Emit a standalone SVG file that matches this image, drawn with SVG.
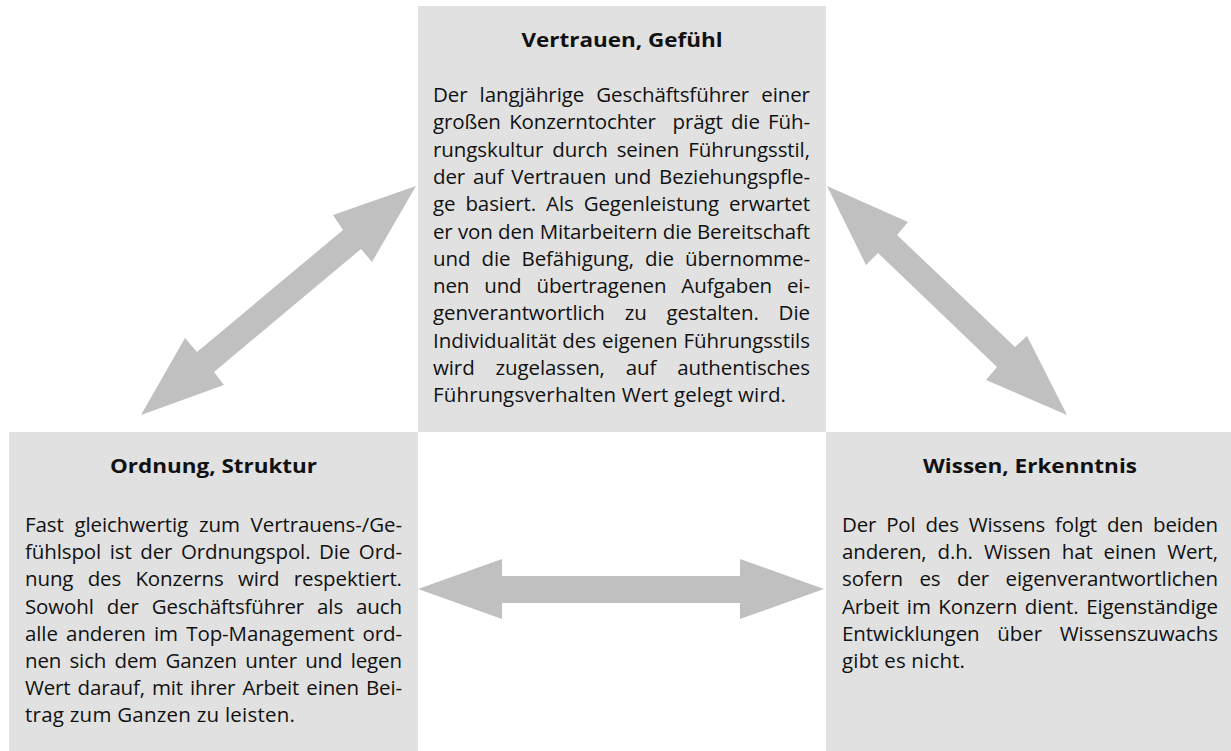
<svg xmlns="http://www.w3.org/2000/svg" width="1231" height="751" viewBox="0 0 1231 751">
<style>
.box{fill:#e1e1e1}
.arrow{fill:#c0c0c0}
.t{font-family:"Open Sans","Noto Sans",sans-serif;fill:#111}
.h{font-size:20px;font-weight:bold;text-anchor:middle}
.b{font-size:20.5px}
</style>
<rect width="1231" height="751" fill="#ffffff"/>
<g id="connectors">
<polygon class="arrow" points="416,186 372,262 361,249 214,372 224,385 141,415 185,338 197,352 343,230 333,215"/>
<polygon class="arrow" points="827,186 908,222 897,235 1015,347 1027,336 1067,415 986,380 997,367 878,253 866,265"/>
<polygon class="arrow" points="418,589 502,559 502,576 740,576 740,559 824,589 740,619 740,603 502,603 502,619"/>
</g>
<g id="node-vertrauen">
<rect class="box" x="418" y="6" width="408" height="426"/>
<text class="t h" x="622" y="47" textLength="201" lengthAdjust="spacingAndGlyphs">Vertrauen, Gefühl</text>
<g class="t b">
<text x="433" y="102" word-spacing="6.9" textLength="377" lengthAdjust="spacing">Der langjährige Geschäftsführer einer</text>
<text x="433" y="129.3" xml:space="preserve" word-spacing="3.2" textLength="377" lengthAdjust="spacing">großen Konzerntochter  prägt die Füh-</text>
<text x="433" y="156.6" word-spacing="3.8" textLength="377" lengthAdjust="spacing">rungskultur durch seinen Führungsstil,</text>
<text x="433" y="183.9" word-spacing="2.6" textLength="377" lengthAdjust="spacing">der auf Vertrauen und Beziehungspfle-</text>
<text x="433" y="211.2" word-spacing="4.8" textLength="377" lengthAdjust="spacing">ge basiert. Als Gegenleistung erwartet</text>
<text x="433" y="238.5" word-spacing="0.3" textLength="377" lengthAdjust="spacing">er von den Mitarbeitern die Bereitschaft</text>
<text x="433" y="265.8" word-spacing="5.9" textLength="377" lengthAdjust="spacing">und die Befähigung, die übernomme-</text>
<text x="433" y="293.1" word-spacing="9.7" textLength="377" lengthAdjust="spacing">nen und übertragenen Aufgaben ei-</text>
<text x="433" y="320.4" word-spacing="14.6" textLength="377" lengthAdjust="spacing">genverantwortlich zu gestalten. Die</text>
<text x="433" y="347.7" word-spacing="0.7" textLength="377" lengthAdjust="spacing">Individualität des eigenen Führungsstils</text>
<text x="433" y="375" word-spacing="15.7" textLength="377" lengthAdjust="spacing">wird zugelassen, auf authentisches</text>
<text x="433" y="402.3" textLength="353" lengthAdjust="spacing">Führungsverhalten Wert gelegt wird.</text>
</g>
</g>
<g id="node-ordnung">
<rect class="box" x="9" y="432" width="409" height="319"/>
<text class="t h" x="213.5" y="473" textLength="207" lengthAdjust="spacingAndGlyphs">Ordnung, Struktur</text>
<g class="t b">
<text x="25" y="532" word-spacing="5.6" textLength="377" lengthAdjust="spacing">Fast gleichwertig zum Vertrauens-/Ge-</text>
<text x="25" y="559.2" word-spacing="3.4" textLength="377" lengthAdjust="spacing">fühlspol ist der Ordnungspol. Die Ord-</text>
<text x="25" y="586.4" word-spacing="9.1" textLength="377" lengthAdjust="spacing">nung des Konzerns wird respektiert.</text>
<text x="25" y="613.6" word-spacing="7.8" textLength="377" lengthAdjust="spacing">Sowohl der Geschäftsführer als auch</text>
<text x="25" y="640.8" word-spacing="3.1" textLength="377" lengthAdjust="spacing">alle anderen im Top-Management ord-</text>
<text x="25" y="668" word-spacing="3.2" textLength="377" lengthAdjust="spacing">nen sich dem Ganzen unter und legen</text>
<text x="25" y="695.2" word-spacing="2" textLength="377" lengthAdjust="spacing">Wert darauf, mit ihrer Arbeit einen Bei-</text>
<text x="25" y="722.4" textLength="270" lengthAdjust="spacing">trag zum Ganzen zu leisten.</text>
</g>
</g>
<g id="node-wissen">
<rect class="box" x="826" y="432" width="405" height="319"/>
<text class="t h" x="1030" y="473" textLength="214" lengthAdjust="spacingAndGlyphs">Wissen, Erkenntnis</text>
<g class="t b">
<text x="842" y="532" word-spacing="4.8" textLength="376" lengthAdjust="spacing">Der Pol des Wissens folgt den beiden</text>
<text x="842" y="559.2" word-spacing="5.9" textLength="376" lengthAdjust="spacing">anderen, d.h. Wissen hat einen Wert,</text>
<text x="842" y="586.4" word-spacing="11.2" textLength="376" lengthAdjust="spacing">sofern es der eigenverantwortlichen</text>
<text x="842" y="613.6" word-spacing="2.4" textLength="376" lengthAdjust="spacing">Arbeit im Konzern dient. Eigenständige</text>
<text x="842" y="640.8" word-spacing="12.4" textLength="376" lengthAdjust="spacing">Entwicklungen über Wissenszuwachs</text>
<text x="842" y="668" textLength="123" lengthAdjust="spacing">gibt es nicht.</text>
</g>
</g>
</svg>
